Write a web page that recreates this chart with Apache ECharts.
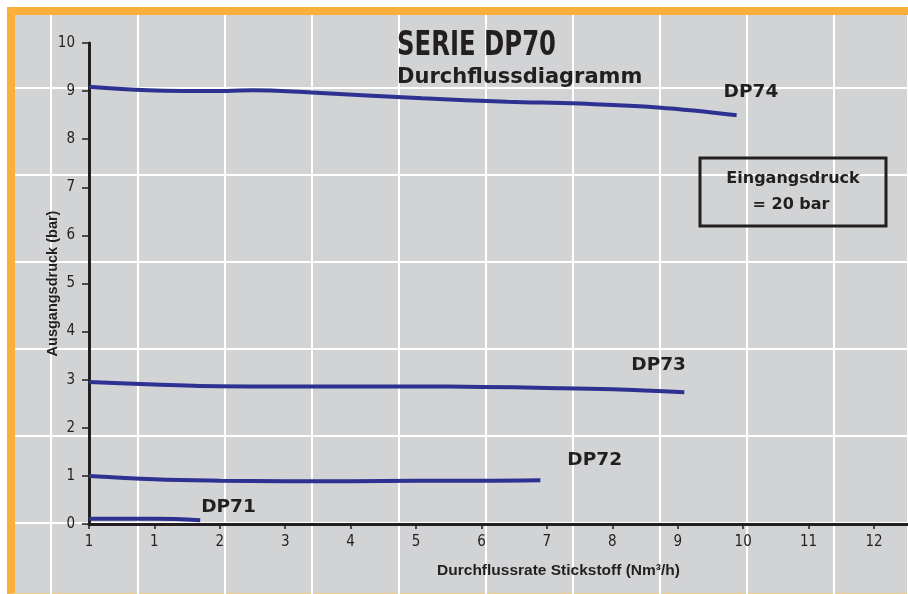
<!DOCTYPE html>
<html>
<head>
<meta charset="utf-8">
<script src="https://cdn.jsdelivr.net/npm/echarts@6/dist/echarts.min.js"></script>
<style>
  html, body { margin: 0; padding: 0; background: #fff; }
  #wrap { position: relative; width: 908px; height: 594px; overflow: hidden; }
  #frame {
    position: absolute; left: 7px; top: 7px; width: 901px; height: 587px;
    box-sizing: border-box; background: #d1d3d4;
    border-top: 8px solid #fbb03b; border-left: 8px solid #fbb03b;
    border-bottom: 1px solid #f3cf86;
  }
  #chart { position: absolute; left: 0; top: 0; width: 908px; height: 594px; }
</style>
</head>
<body>
<div id="wrap">
  <div id="frame"></div>
  <div id="chart"></div>
</div>
<script>
  // x ticks (the first one really reads "1" in the original)
  var tickValues = [0, 1, 2, 3, 4, 5, 6, 7, 8, 9, 10, 11, 12];
  var tickLabels = ['1', '1', '2', '3', '4', '5', '6', '7', '8', '9', '10', '11', '12'];

  // Durchfluss (Nm3/h) / Ausgangsdruck (bar)
  var flow74 = [0, 0.9, 2.1, 2.5, 3.4, 5.1, 6.4, 7.5, 8.7, 9.9];
  var druck74 = [9.09, 9.02, 9.0, 9.02, 8.97, 8.85, 8.78, 8.74, 8.66, 8.5];

  var flow73 = [0, 1, 1.7, 3, 4, 5, 6, 7, 8, 9.1];
  var druck73 = [2.95, 2.9, 2.87, 2.86, 2.86, 2.86, 2.85, 2.83, 2.8, 2.74];

  var flow72 = [0, 1, 2, 3, 4, 5, 6, 6.9];
  var druck72 = [1.0, 0.93, 0.9, 0.89, 0.89, 0.9, 0.9, 0.91];

  var flow71 = [0, 1, 1.7];
  var druck71 = [0.11, 0.11, 0.08];

  var ink = '#231f20';
  var blue = '#2e3092';
  var narrow = '"Liberation Sans Narrow", "DejaVu Sans Condensed", sans-serif';
  var wide = '"DejaVu Sans", sans-serif';
  var sans = '"Liberation Sans", sans-serif';

  function pairs(xs, ys) {
    return xs.map(function(x, i) { return [x, ys[i]]; });
  }

  function curve(name, xs, ys, offset) {
    return {
      name: name,
      type: 'line',
      xAxisIndex: 0,
      yAxisIndex: 0,
      smooth: 0.4,
      showSymbol: false,
      symbol: 'none',
      lineStyle: { color: blue, width: 4 },
      endLabel: {
        show: true,
        formatter: '{a}',
        offset: offset,
        color: ink,
        fontFamily: wide,
        fontWeight: 'bold',
        fontSize: 18.5
      },
      data: pairs(xs, ys)
    };
  }

  var chart = echarts.init(document.getElementById('chart'), null, { renderer: 'canvas' });

  var option = {
    animation: false,
    backgroundColor: 'transparent',
    grid: [
      { left: 89, right: 0, top: 43, bottom: 70 },
      // white background raster, not tied to the value axes
      { left: 51, right: 0, top: 15, bottom: 0 },
      { left: 15, right: 0, top: 88, bottom: 71 }
    ],
    xAxis: [{
      type: 'value',
      gridIndex: 0,
      min: 0,
      max: 12.52,
      name: 'Durchflussrate Stickstoff (Nm³/h)',
      nameLocation: 'middle',
      nameGap: 39,
      nameTextStyle: {
        color: ink, fontFamily: sans, fontWeight: 'bold',
        fontSize: 15.5, padding: [0, 0, 0, 120]
      },
      axisLine: { show: true, onZero: false, lineStyle: { color: ink, width: 3 } },
      axisTick: { show: true, customValues: tickValues, length: 5, lineStyle: { color: ink, width: 1.5 } },
      axisLabel: {
        customValues: tickValues,
        formatter: function(v) { return tickLabels[tickValues.indexOf(v)]; },
        margin: 11, color: ink, fontFamily: narrow, fontSize: 15
      },
      splitLine: { show: false }
    }, {
      type: 'value',
      gridIndex: 1,
      min: 0,
      max: 9.85,
      interval: 1,
      axisLine: { show: false },
      axisTick: { show: false },
      axisLabel: { show: false },
      splitLine: { show: true, lineStyle: { color: '#ffffff', width: 2 } }
    }, {
      type: 'value',
      gridIndex: 2,
      min: 0,
      max: 1,
      show: false
    }],
    yAxis: [{
      type: 'value',
      gridIndex: 0,
      min: 0,
      max: 10,
      interval: 1,
      name: 'Ausgangsdruck (bar)',
      nameLocation: 'middle',
      nameGap: 29,
      nameMoveOverlap: false,
      nameRotate: 90,
      nameTextStyle: {
        color: ink, fontFamily: sans, fontWeight: 'bold', fontSize: 14.5
      },
      axisLine: { show: true, onZero: false, lineStyle: { color: ink, width: 3 } },
      axisTick: { show: true, length: 7, lineStyle: { color: ink, width: 1.5 } },
      axisLabel: { margin: 14, color: ink, fontFamily: narrow, fontSize: 15 },
      splitLine: { show: false }
    }, {
      type: 'value',
      gridIndex: 1,
      min: 0,
      max: 1,
      show: false
    }, {
      type: 'value',
      gridIndex: 2,
      min: 0,
      max: 5,
      interval: 1,
      axisLine: { show: false },
      axisTick: { show: false },
      axisLabel: { show: false },
      splitLine: { show: true, lineStyle: { color: '#ffffff', width: 2 } }
    }],
    graphic: [{
      type: 'text',
      x: 397, y: 46, z: 50,
      scaleX: 0.82,
      style: {
        text: 'SERIE DP70', fill: ink, fontFamily: narrow, fontWeight: 'bold', fontSize: 33,
        verticalAlign: 'middle'
      }
    }, {
      type: 'text',
      x: 397, y: 78, z: 50,
      style: {
        text: 'Durchflussdiagramm', fill: ink, fontFamily: wide, fontWeight: 'bold', fontSize: 21,
        verticalAlign: 'middle'
      }
    }, {
      type: 'rect', z: 50,
      shape: { x: 700, y: 158, width: 186, height: 68 },
      style: { fill: 'none', stroke: ink, lineWidth: 3 }
    }, {
      type: 'text',
      x: 793, y: 179, z: 50,
      style: {
        text: 'Eingangsdruck', fill: ink, fontFamily: wide, fontWeight: 'bold', fontSize: 16,
        align: 'center', verticalAlign: 'middle'
      }
    }, {
      type: 'text',
      x: 791, y: 205, z: 50,
      style: {
        text: '= 20 bar', fill: ink, fontFamily: wide, fontWeight: 'bold', fontSize: 16,
        align: 'center', verticalAlign: 'middle'
      }
    }],
    series: [
      curve('DP74', flow74, druck74, [-21, -23]),
      curve('DP73', flow73, druck73, [-61, -27]),
      curve('DP72', flow72, druck72, [19, -20]),
      curve('DP71', flow71, druck71, [-7, -13])
    ]
  };

  chart.setOption(option);
</script>
</body>
</html>
